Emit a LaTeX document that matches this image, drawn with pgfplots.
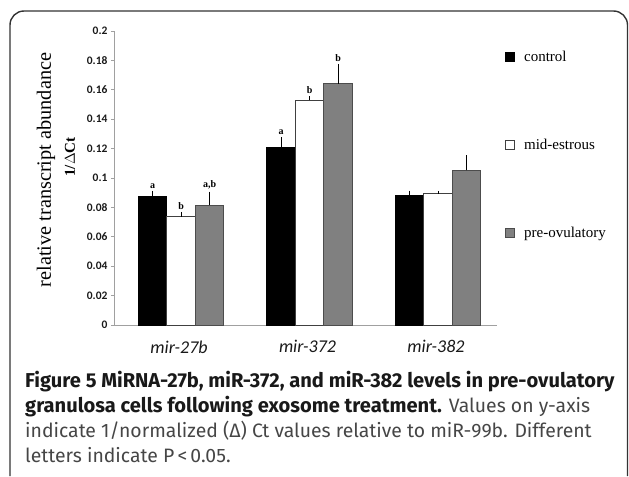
\documentclass[border=0pt]{standalone}
\usepackage{fontspec}
\setmainfont{Liberation Serif}
\newfontfamily\capfont{Fira Sans}
\newfontfamily\tickfont{Carlito}
\usepackage{pgfplots}
\pgfplotsset{compat=1.18}

\definecolor{bargray}{RGB}{128,128,128}
\definecolor{axgray}{RGB}{160,160,160}
\definecolor{captxt}{RGB}{70,70,70}

\pgfplotsset{
  legsq/.style={legend image code/.code={
    \draw[##1,line width=0.8pt] (0pt,-4.5pt) rectangle (9pt,4.5pt);
    \path (16pt,0pt);}},
}
\tikzset{
  letter/.style={font=\bfseries\fontsize{10}{10}\selectfont, anchor=south, inner sep=1.5pt, yshift=1pt},
}

\begin{document}
\begin{tikzpicture}[x=1pt,y=1pt]
\begin{axis}[
  scale only axis, width=382pt, height=294pt,
  xmin=-0.514, xmax=2.459, ymin=0, ymax=0.2,
  axis x line*=bottom, axis y line*=left,
  axis line style={draw=axgray, line width=1pt},
  ytick={0,0.02,0.04,0.06,0.08,0.1,0.12,0.14,0.16,0.18,0.2},
  yticklabels={0,0.02,0.04,0.06,0.08,0.1,0.12,0.14,0.16,0.18,0.2},
  y tick label style={font=\tickfont\bfseries\fontsize{11.5}{12}\selectfont, color=black!90},
  ytick style={draw=axgray, line width=0.8pt},
  tick align=outside, major tick length=4pt,
  xtick={0,1,2},
  xticklabels={mir-27b,mir-372,mir-382},
  x tick label style={font=\tickfont\itshape\fontsize{18}{18}\selectfont, color=black!90, yshift=-8pt, xshift=-2pt},
  xtick style={draw=none},
  ybar=0pt, bar width=28.5pt,
  error bars/y dir=plus, error bars/y explicit,
  error bars/error mark=none,
  error bars/error bar style={black, line width=1pt},
  legend style={at={(1.021,0.94)}, anchor=north west, draw=none, fill=none,
    inner sep=0pt, row sep=72pt, font=\fontsize{15}{15}\selectfont,
    cells={anchor=west}},
]
\addplot[fill=black, draw=black, line width=1pt, legsq] coordinates {
  (0,0.0875) +- (0,0.0037)
  (1,0.121)  +- (0,0.0068)
  (2,0.088)  +- (0,0.0034)
};
\addplot[fill=white, draw=black!75, line width=1pt, legsq] coordinates {
  (0,0.0735) +- (0,0.0035)
  (1,0.153)  +- (0,0.0025)
  (2,0.0893) +- (0,0.0020)
};
\addplot[fill=bargray, draw=black!70, line width=1pt, legsq] coordinates {
  (0,0.0815) +- (0,0.0092)
  (1,0.164)  +- (0,0.0136)
  (2,0.1052) +- (0,0.0104)
};
\legend{control,mid-estrous,pre-ovulatory}

\node[letter] at (axis cs:-0.222,0.0912) {a};
\node[letter] at (axis cs:0,0.077) {b};
\node[letter] at (axis cs:0.222,0.0907) {a,b};
\node[letter] at (axis cs:0.778,0.1278) {a};
\node[letter] at (axis cs:1,0.1555) {b};
\node[letter] at (axis cs:1.222,0.1776) {b};
\coordinate (SW) at (rel axis cs:0,0);
\end{axis}

% everything else in picture pixels, lower left of the axis box at (115,151)
\begin{scope}[shift={(SW)}, xshift=-115pt, yshift=-151pt]
\path (0,0) rectangle (629,476);
\draw[line width=1.4pt, black!80, rounded corners=14pt] (10,0) -- (10,465) -- (627.5,465) -- (627.5,0);

\node[rotate=90, font=\fontsize{20.3}{21}\selectfont] at (46,306) {relative transcript abundance};
\node[rotate=90, font=\bfseries\fontsize{15}{15}\selectfont] at (70,319) {1/$\Delta$Ct};

\begin{scope}[every node/.style={anchor=base west, inner sep=0pt, font=\capfont\fontsize{19.4}{22}\selectfont}]
\node at (25,89) {\fontsize{20.1}{22}\selectfont\bfseries\color{black!90}Figure 5 MiRNA-27b, miR-372, and miR-382 levels in pre-ovulatory};
\node at (25,64) {{\fontsize{20.1}{22}\selectfont\bfseries\color{black!90}granulosa cells following exosome treatment.} \color{captxt}Values on y-axis};
\node at (25,39) {\color{captxt}indicate 1/normalized (Δ) Ct values relative to miR-99b. Different};
\node at (25,14) {\color{captxt}letters indicate P\,<\,0.05.};
\end{scope}
\end{scope}
\end{tikzpicture}
\end{document}
